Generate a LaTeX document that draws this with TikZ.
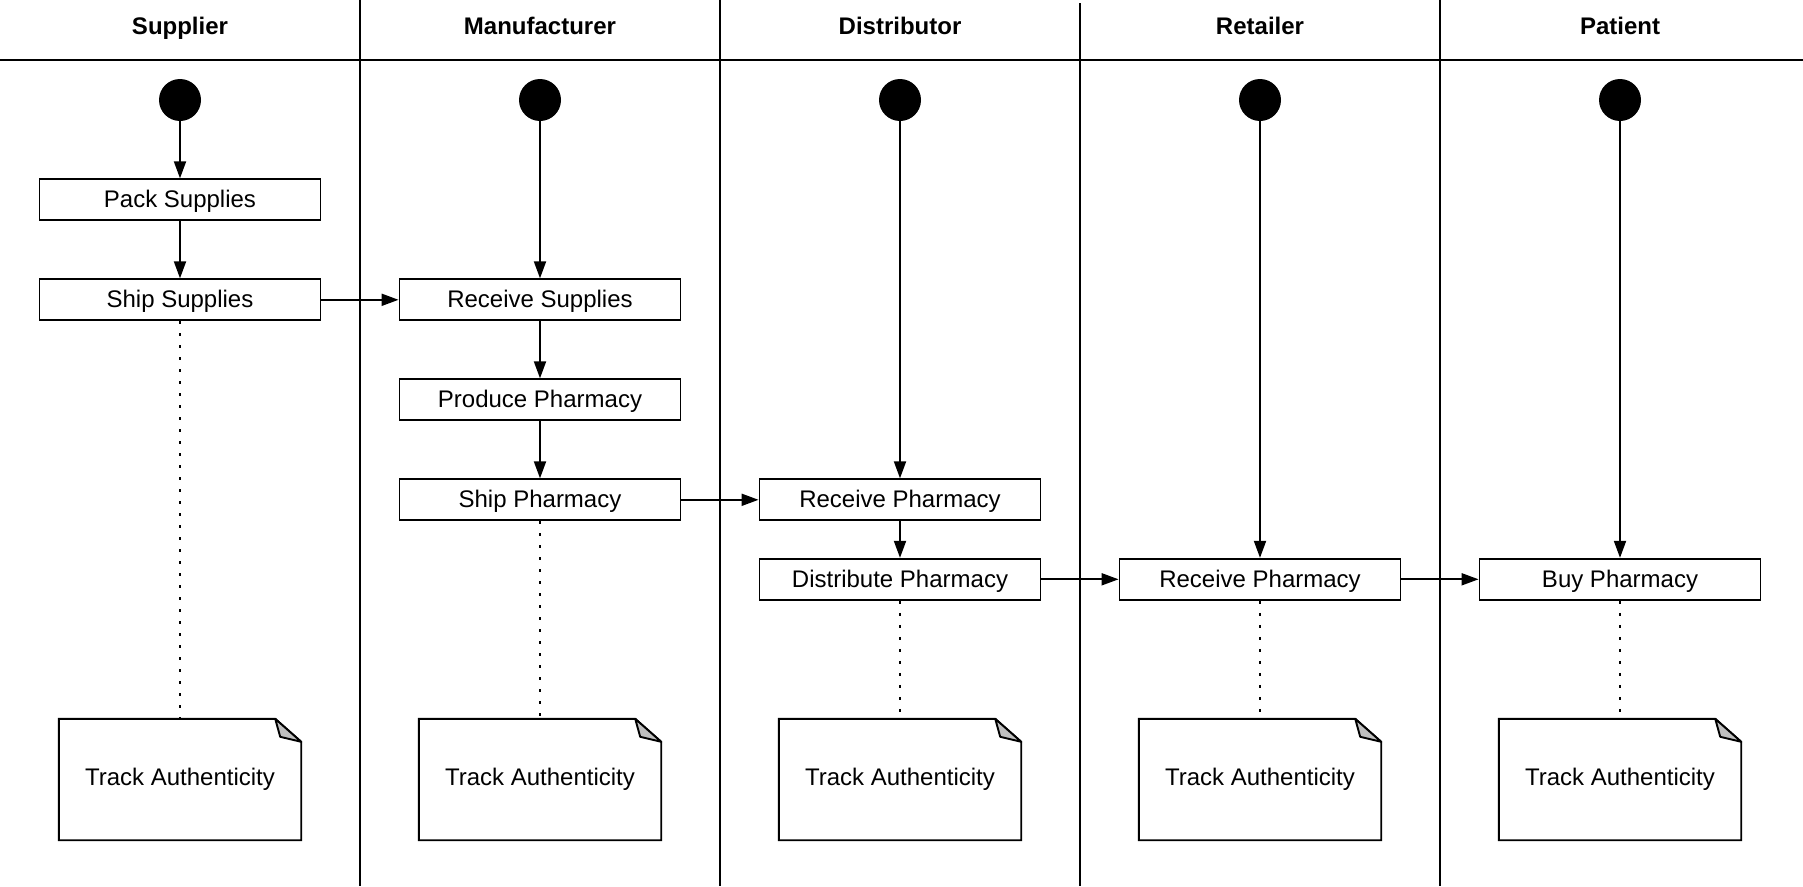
\documentclass[tikz,border=0pt]{standalone}
\usepackage{fontspec}
\setmainfont{Liberation Sans}
\usetikzlibrary{arrows.meta}
\tikzset{
  box/.style={draw, line width=1.9pt, minimum width=281pt, minimum height=41pt, inner sep=0pt, text height=17.3pt, text depth=1.7pt, font=\fontsize{24}{28}\selectfont},
  start/.style={circle, fill=black, minimum size=42pt, inner sep=0pt},
  notebox/.style={minimum width=242pt, minimum height=121pt, inner sep=0pt, text height=17.3pt, text depth=6.3pt, font=\fontsize{24}{28}\selectfont},
  flow/.style={line width=1.9pt, -{Triangle[length=17pt,width=12pt]}},
  trace/.style={line width=1.9pt, dash pattern=on 3pt off 9pt},
  lane/.style={line width=1.9pt},
  header/.style={anchor=base, inner sep=0pt, font=\bfseries\fontsize{24}{28}\selectfont},
  noteline/.style={line width=1.9pt, line join=miter},
  fold/.style={line width=1.9pt, fill=black!25, line join=round}
}
\begin{document}
\begin{tikzpicture}[x=1pt,y=-1pt]
\useasboundingbox[fill=white] (0,0) rectangle (1803,886);
% lanes
\draw[lane] (0,60) -- (1803,60);
\draw[lane] (360,0) -- (360,886);
\draw[lane] (720,0) -- (720,886);
\draw[lane] (1080,3) -- (1080,886);
\draw[lane] (1440,0) -- (1440,886);
\node[header] (h1) at (180,34.3) {Supplier};
\node[header] (h2) at (540,34.3) {Manufacturer};
\node[header] (h3) at (900,34.3) {Distributor};
\node[header] (h4) at (1260,34.3) {Retailer};
\node[header] (h5) at (1620,34.3) {Patient};
% starts
\node[start] (s1) at (180,100) {};
\node[start] (s2) at (540,100) {};
\node[start] (s3) at (900,100) {};
\node[start] (s4) at (1260,100) {};
\node[start] (s5) at (1620,100) {};
% boxes
\node[box] (pack) at (180,199.8) {Pack Supplies};
\node[box] (ship) at (180,299.8) {Ship Supplies};
\node[box] (recvS) at (540,299.8) {Receive Supplies};
\node[box] (produce) at (540,399.8) {Produce Pharmacy};
\node[box] (shipP) at (540,499.8) {Ship Pharmacy};
\node[box] (recvP) at (900,499.8) {Receive Pharmacy};
\node[box] (dist) at (900,579.3) {Distribute Pharmacy};
\node[box] (recvR) at (1260,579.3) {Receive Pharmacy};
\node[box] (buy) at (1620,579.3) {Buy Pharmacy};
% notes
\foreach \i/\x in {1/180,2/540,3/900,4/1260,5/1620}{
  \node[notebox] (n\i) at (\x,779.5) {Track Authenticity};
  \draw[noteline] (n\i.north west) -- ([xshift=-26pt]n\i.north east) -- ([yshift=-23pt]n\i.north east) -- (n\i.south east) -- (n\i.south west) -- cycle;
  \draw[fold] ([xshift=-26pt]n\i.north east) -- ([xshift=-21pt,yshift=-18pt]n\i.north east) -- ([yshift=-23pt]n\i.north east) -- cycle;
}
% flows
\draw[flow] (s1) -- (pack);
\draw[flow] (pack) -- (ship);
\draw[flow] (ship.east) -- (recvS.west);
\draw[flow] (s2) -- (recvS);
\draw[flow] (recvS) -- (produce);
\draw[flow] (produce) -- (shipP);
\draw[flow] (shipP.east) -- (recvP.west);
\draw[flow] (s3) -- (recvP);
\draw[flow] (recvP) -- (dist);
\draw[flow] (dist.east) -- (recvR.west);
\draw[flow] (s4) -- (recvR);
\draw[flow] (recvR.east) -- (buy.west);
\draw[flow] (s5) -- (buy);
% traces
\draw[trace] (ship.south) -- (n1.north);
\draw[trace] (shipP.south) -- (n2.north);
\draw[trace] (dist.south) -- (n3.north);
\draw[trace] (recvR.south) -- (n4.north);
\draw[trace] (buy.south) -- (n5.north);
\end{tikzpicture}
\end{document}
